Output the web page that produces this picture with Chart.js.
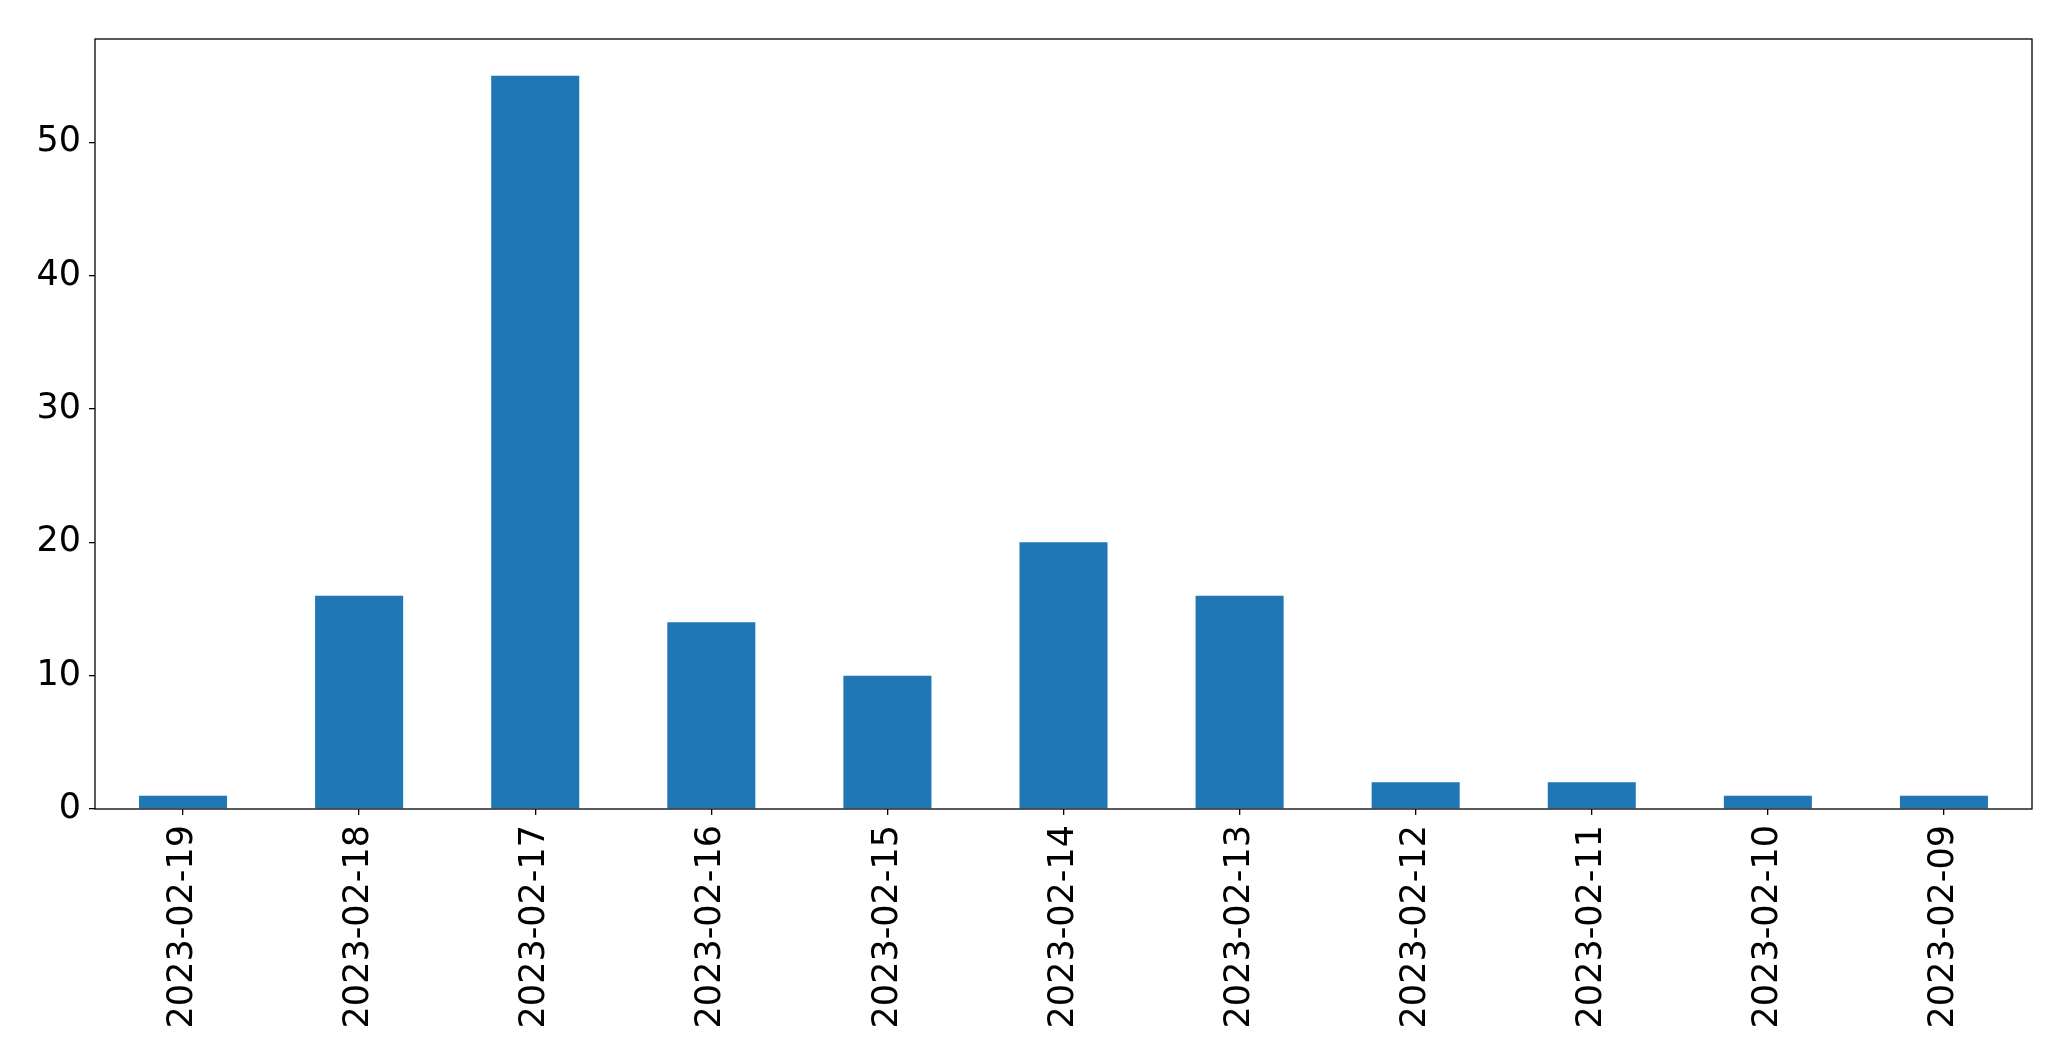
<!DOCTYPE html>
<html>
<head>
<meta charset="utf-8">
<script src="https://cdn.jsdelivr.net/npm/chart.js@4"></script>
<style>
  html, body { margin: 0; padding: 0; background: #fff; }
  #wrap { width: 2071px; height: 1061px; }
</style>
</head>
<body>
<div id="wrap"><canvas id="barChart" width="2071" height="1061"></canvas></div>
<script>
const dates = ['2023-02-19', '2023-02-18', '2023-02-17', '2023-02-16', '2023-02-15', '2023-02-14',
  '2023-02-13', '2023-02-12', '2023-02-11', '2023-02-10', '2023-02-09'];
const counts = [1, 16, 55, 14, 10, 20, 16, 2, 2, 1, 1];
const yTicks = [0, 10, 20, 30, 40, 50];
const yMax = 57.75;

// matplotlib-style box around the plot
const frame = {
  id: 'frame',
  afterDraw(chart) {
    const { ctx, chartArea: a } = chart;
    ctx.save();
    ctx.strokeStyle = '#000';
    ctx.lineWidth = 1.3;
    ctx.strokeRect(a.left, a.top, a.right - a.left, a.bottom - a.top);
    ctx.restore();
  }
};

new Chart(document.getElementById('barChart'), {
  type: 'bar',
  data: {
    labels: dates,
    datasets: [{
      data: counts,
      backgroundColor: '#1f77b4',
      barPercentage: 0.5,
      categoryPercentage: 1.0
    }]
  },
  options: {
    responsive: false,
    animation: false,
    layout: { padding: { top: 39, right: 39, left: 0, bottom: 0 } },
    plugins: { legend: { display: false }, tooltip: { enabled: false } },
    scales: {
      x: {
        grid: { offset: false, drawOnChartArea: false, tickLength: 6, color: '#000', lineWidth: 1.3 },
        border: { display: false },
        ticks: {
          color: '#000', font: { family: 'DejaVu Sans', size: 35 },
          minRotation: 90, maxRotation: 90, padding: 10, autoSkip: false
        },
        afterFit(scale) { scale.height = 252; }
      },
      y: {
        min: 0, max: yMax,
        afterBuildTicks(scale) { scale.ticks = yTicks.map(v => ({ value: v })); },
        grid: { drawOnChartArea: false, tickLength: 6, color: '#000', lineWidth: 1.3 },
        border: { display: false },
        ticks: { color: '#000', font: { family: 'DejaVu Sans', size: 35 }, padding: 8 },
        afterFit(scale) { scale.width = 95; }
      }
    }
  },
  plugins: [frame]
});
</script>
</body>
</html>
